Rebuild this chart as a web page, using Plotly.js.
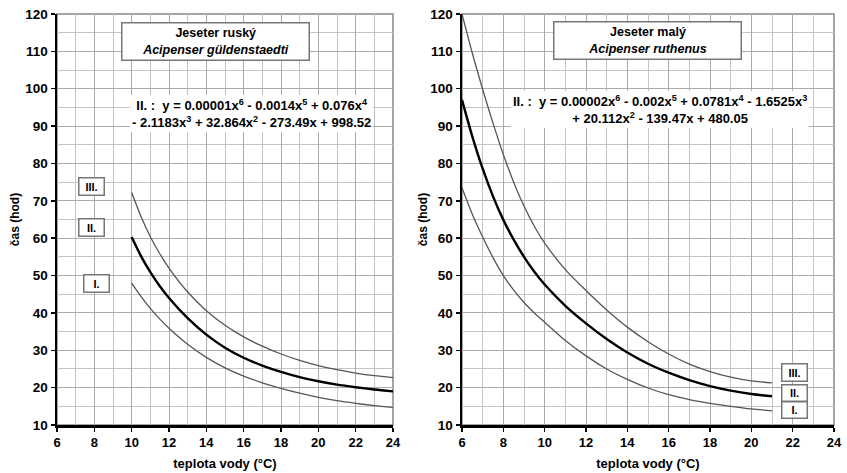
<!DOCTYPE html>
<html><head><meta charset="utf-8">
<script src="https://cdn.plot.ly/plotly-3.0.1.min.js"></script>
<style>body{margin:0;padding:0;background:#fff}#c{width:847px;height:473px}</style>
</head><body><div id="c"></div>
<script>
// Left: Jeseter ruský (Acipenser güldenstaedti)
const xLeft = [10, 10.5, 11, 11.5, 12, 13, 14, 15, 16, 17, 18, 19, 20, 21, 22, 23, 24];
const leftIII = [72.2, 65.8, 60.4, 55.9, 52.0, 45.6, 40.6, 36.7, 33.6, 31.1, 29.0, 27.3, 25.9, 24.8, 23.9, 23.2, 22.7];
const leftII  = [60.3, 55.2, 50.9, 47.2, 44.0, 38.6, 34.2, 30.7, 28.0, 25.9, 24.2, 22.8, 21.7, 20.8, 20.1, 19.5, 19.0];
const leftI   = [48.0, 44.4, 41.2, 38.4, 35.9, 31.6, 28.1, 25.3, 23.1, 21.3, 19.8, 18.5, 17.4, 16.5, 15.8, 15.2, 14.7];
// Right: Jeseter malý (Acipenser ruthenus)
const xRight = [6, 6.5, 7, 7.5, 8, 8.5, 9, 9.5, 10, 11, 12, 13, 14, 15, 16, 17, 18, 19, 20, 21];
const rightIII = [120, 109.5, 99.8, 90.8, 82.4, 75.0, 68.6, 63.2, 58.7, 51.6, 46.0, 40.8, 36.2, 32.3, 29.0, 26.3, 24.3, 22.8, 21.8, 21.3];
const rightII  = [97, 87.2, 78.6, 71.2, 64.9, 59.6, 55.0, 51.0, 47.6, 41.9, 37.2, 33.0, 29.4, 26.4, 24.0, 22.0, 20.4, 19.2, 18.3, 17.7];
const rightI   = [73.5, 66.4, 60.3, 54.8, 50.0, 46.1, 42.8, 40.0, 37.5, 32.6, 28.5, 25.0, 22.2, 19.9, 18.1, 16.8, 15.8, 15.0, 14.3, 13.8];

const xTitle = 'teplota vody (°C)';
const yTitle = 'čas (hod)';
const leftHeader = '<b>Jeseter ruský</b><br><b><i>Acipenser güldenstaedti</i></b>';
const rightHeader = '<b>Jeseter malý</b><br><b><i>Acipenser ruthenus</i></b>';
const leftEq = '<b>II. :  y = 0.00001x<sup>6</sup> - 0.0014x<sup>5</sup> + 0.076x<sup>4</sup><br>- 2.1183x<sup>3</sup> + 32.864x<sup>2</sup> - 273.49x + 998.52</b>';
const rightEq = '<b>II. :  y = 0.00002x<sup>6</sup> - 0.002x<sup>5</sup> + 0.0781x<sup>4</sup> - 1.6525x<sup>3</sup><br>+ 20.112x<sup>2</sup> - 139.47x + 480.05</b>';

const FONT = 'Liberation Sans, Arial, sans-serif';
const thin = {color:'#555', width:1.3, shape:'spline', smoothing:0.8};
const thick = {color:'#000', width:2.4, shape:'spline', smoothing:0.8};

const traces = [
  {x:xLeft, y:leftIII, mode:'lines', line:thin, xaxis:'x', yaxis:'y', hoverinfo:'skip'},
  {x:xLeft, y:leftII, mode:'lines', line:thick, xaxis:'x', yaxis:'y', hoverinfo:'skip'},
  {x:xLeft, y:leftI, mode:'lines', line:thin, xaxis:'x', yaxis:'y', hoverinfo:'skip'},
  {x:xRight, y:rightIII, mode:'lines', line:thin, xaxis:'x2', yaxis:'y2', hoverinfo:'skip'},
  {x:xRight, y:rightII, mode:'lines', line:thick, xaxis:'x2', yaxis:'y2', hoverinfo:'skip'},
  {x:xRight, y:rightI, mode:'lines', line:thin, xaxis:'x2', yaxis:'y2', hoverinfo:'skip'}
];

function xa(domain, anchor){
  return {domain:domain, anchor:anchor, range:[6,24], tick0:6, dtick:2, ticks:'outside', ticklen:4,
    tickwidth:1.5, tickcolor:'#000', showline:true, linecolor:'#000', linewidth:2.5,
    showgrid:true, gridcolor:'#ababab', gridwidth:1, zeroline:false,
    minor:{dtick:1, showgrid:true, gridcolor:'#c4c4c4', gridwidth:1},
    tickfont:{family:FONT, size:13, color:'#000', weight:'bold'},
    title:{text:'<b>'+xTitle+'</b>', font:{family:FONT, size:13, color:'#000'}, standoff:10}};
}
function ya(anchor, standoff){
  return {domain:[0,1], anchor:anchor, range:[10,120], tick0:10, dtick:10, ticks:'outside', ticklen:4,
    tickwidth:1.5, tickcolor:'#000', showline:true, linecolor:'#000', linewidth:2.5,
    showgrid:true, gridcolor:'#ababab', gridwidth:1, zeroline:false,
    minor:{dtick:5, showgrid:true, gridcolor:'#c4c4c4', gridwidth:1},
    tickfont:{family:FONT, size:13.5, color:'#000', weight:'bold'},
    title:{text:'<b>'+yTitle+'</b>', font:{family:FONT, size:12, color:'#000'}, standoff:standoff}};
}

function boxAnn(xref, yref, x, y, text, size, border, w, h){
  const a = {xref:xref, yref:yref, x:x, y:y, text:text, showarrow:false, align:'center',
    font:{family:FONT, size:size, color:'#000'}, bgcolor:'#fff',
    bordercolor: border ? '#777' : 'rgba(0,0,0,0)', borderwidth: border ? 1.5 : 0, borderpad: 2};
  if (w) a.width = w;
  if (h) a.height = h;
  return a;
}

const annotations = [
  boxAnn('x','y',14.5,112.6,leftHeader,12.5,true,182,32),
  boxAnn('x','y',16.4,93.5,leftEq,13,false),
  boxAnn('x','y',7.87,73.8,'<b>III.</b>',11,true,20,12),
  boxAnn('x','y',7.87,62.9,'<b>II.</b>',11,true,20,12),
  boxAnn('x','y',8.14,47.9,'<b>I.</b>',11,true,20,12),
  boxAnn('x2','y2',14.97,112.9,rightHeader,12.5,true,182,32),
  boxAnn('x2','y2',15.6,94.5,rightEq,13,false),
  boxAnn('x2','y2',22.09,24,'<b>III.</b>',11,true,20,12),
  boxAnn('x2','y2',22.09,18.5,'<b>II.</b>',11,true,20,11),
  boxAnn('x2','y2',22.09,13.9,'<b>I.</b>',11,true,20,11)
];

const shapes = [
  {type:'rect', xref:'x domain', yref:'y domain', x0:0, x1:1, y0:0, y1:1, line:{color:'#888', width:1.5}, layer:'below'},
  {type:'rect', xref:'x2 domain', yref:'y2 domain', x0:0, x1:1, y0:0, y1:1, line:{color:'#888', width:1.5}, layer:'below'}
];

const layout = {
  width:847, height:473, showlegend:false,
  paper_bgcolor:'#fff', plot_bgcolor:'#fff',
  margin:{l:0, r:0, t:14, b:48},
  font:{family:FONT, color:'#000'},
  xaxis: xa([57/847, 393/847], 'y'),
  yaxis: ya('x', 3),
  xaxis2: xa([462/847, 834/847], 'y2'),
  yaxis2: ya('x2', 0),
  annotations: annotations,
  shapes: shapes
};

Plotly.newPlot('c', traces, layout, {staticPlot:true, displayModeBar:false});
</script></body></html>
